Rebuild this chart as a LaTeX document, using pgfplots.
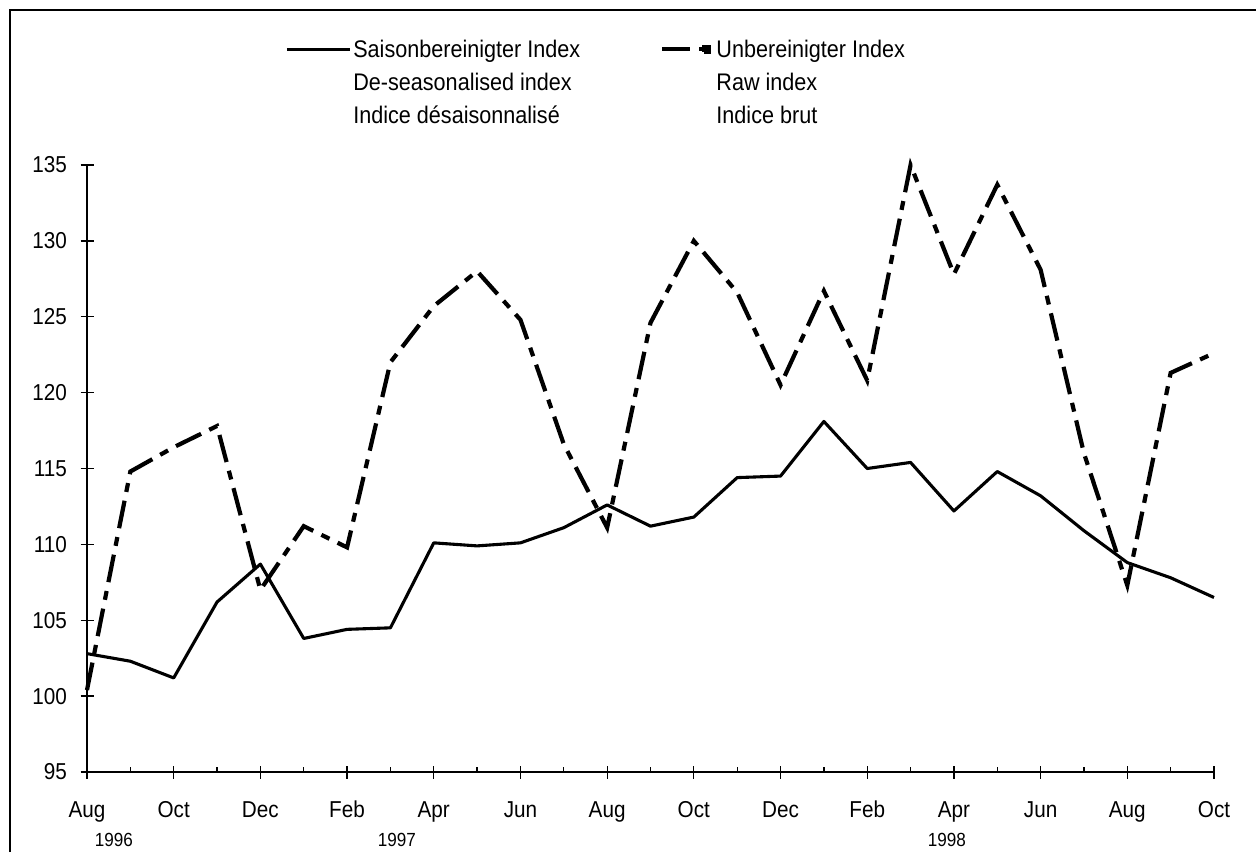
\documentclass[border=0pt]{standalone}
\usepackage{pgfplots}
\pgfplotsset{compat=1.18}
\usepackage{fontspec}
\setmainfont{Liberation Sans}[FakeStretch=0.9]
\begin{document}
\begin{tikzpicture}[x=1pt,y=1pt]
\path[use as bounding box] (0,0) rectangle (1256,852);
\draw[line width=2pt] (10,0) -- (10,842) -- (1256,842);
\begin{axis}[
  at={(87pt,80pt)}, anchor=south west,
  scale only axis, width=1127pt, height=607pt,
  xmin=0, xmax=26, ymin=95, ymax=135,
  axis x line=bottom, axis y line=left,
  axis line style={-, line width=1.3pt},
  xtick={0,2,...,26},
  xticklabels={Aug,Oct,Dec,Feb,Apr,Jun,Aug,Oct,Dec,Feb,Apr,Jun,Aug,Oct},
  minor xtick={1,3,...,25},
  ytick={95,100,...,135},
  tick align=center,
  major tick length=13pt,
  minor tick length=5pt,
  minor x tick style={yshift=2.5pt},
  tick style={line width=1.3pt, black},
  /pgf/number format/assume math mode=true,
  ticklabel style={font=\fontsize{23}{27}\selectfont},
  xticklabel style={anchor=base, yshift=-39pt},
  yticklabel style={xshift=-10pt},
  clip=false,
  legend columns=2,
  legend style={at={(0.1757,1.21)}, anchor=north west, draw=none, fill=none,
    inner sep=0pt, font=\fontsize{24}{33}\selectfont,
    nodes={align=left, inner sep=2pt},
    /tikz/every even column/.append style={column sep=78pt}},
  legend cell align=left,
]
\addplot[black, line width=3.1pt, line join=round,
  legend image code/.code={\draw[black, line width=3.1pt] (0pt,33pt) -- (63pt,33pt);}] coordinates {
(0,102.8) (1,102.3) (2,101.2) (3,106.2) (4,108.7) (5,103.8) (6,104.4)
(7,104.5) (8,110.1) (9,109.9) (10,110.1) (11,111.1) (12,112.6) (13,111.2)
(14,111.8) (15,114.4) (16,114.5) (17,118.1) (18,115.0) (19,115.4) (20,112.2)
(21,114.8) (22,113.2) (23,110.9) (24,108.8) (25,107.8) (26,106.5)};
\addlegendentry{Saisonbereinigter Index\\De-seasonalised index\\Indice désaisonnalisé}
\addplot[black, line width=4.2pt, dash pattern=on 28pt off 9pt on 9pt off 9pt,
  legend image code/.code={\draw[black, line width=4.2pt] (0pt,33pt) -- (30pt,33pt);
    \fill[black] (42pt,30.5pt) rectangle (47pt,35.5pt);
    \path (0pt,33pt) -- (50pt,33pt);}] coordinates {
(0,100.4) (1,114.8) (2,116.4) (3,117.8) (4,107.0) (5,111.2) (6,109.8)
(7,122.0) (8,125.7) (9,128.0) (10,124.8) (11,116.6) (12,111.1) (13,124.6)
(14,130.0) (15,126.6) (16,120.5) (17,126.7) (18,120.8) (19,135.0) (20,127.8)
(21,133.7) (22,128.1) (23,116.0) (24,107.3) (25,121.3) (26,122.6)};
\addlegendentry{Unbereinigter Index\\Raw index\\Indice brut}
\node[font=\fontsize{19}{21}\selectfont] at (axis cs:0.62,95) [yshift=-68pt] {1996};
\node[font=\fontsize{19}{21}\selectfont] at (axis cs:7.15,95) [yshift=-68pt] {1997};
\node[font=\fontsize{19}{21}\selectfont] at (axis cs:19.84,95) [yshift=-68pt] {1998};
\end{axis}
\end{tikzpicture}
\end{document}
